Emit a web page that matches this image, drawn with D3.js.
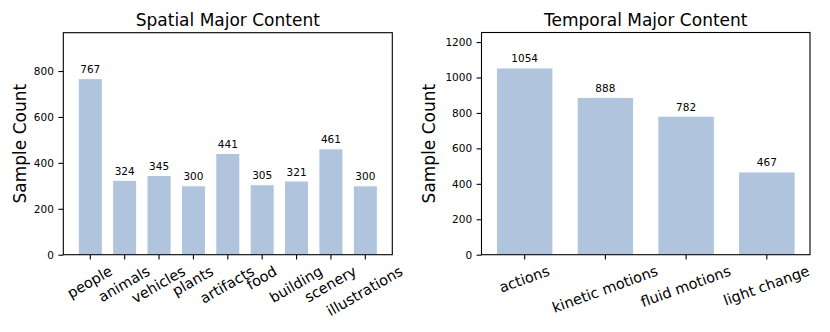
<!DOCTYPE html>
<html><head><meta charset="utf-8">
<script src="https://cdn.jsdelivr.net/npm/d3@7"></script>
<style>body{margin:0;background:#fff}svg{display:block}text{font-family:"DejaVu Sans",sans-serif;fill:#000}</style>
</head><body>
<svg id="c" width="830" height="332"></svg>
<script>
const spatialCategories = ["people","animals","vehicles","plants","artifacts","food","building","scenery","illustrations"];
const spatialValues = [767,324,345,300,441,305,321,461,300];
const spatialTicks = [0,200,400,600,800];
const temporalCategories = ["actions","kinetic motions","fluid motions","light change"];
const temporalValues = [1054,888,782,467];
const temporalTicks = [0,200,400,600,800,1000,1200];

const svg = d3.select("#c");
const BAR = "#B0C4DE";

function panel(cfg) {
  const {cats, vals, ticks, title, x0, x1, y0, y1, rot, ylabX} = cfg;
  const g = svg.append("g");
  const n = cats.length;
  const x = d3.scaleBand().domain(cats).range([x0, x1]).paddingInner(0.3).paddingOuter(0.05 * (n - 0.3));
  const y = d3.scaleLinear().domain([0, d3.max(vals) + 200]).range([y1, y0]);
  const data = cats.map((c, i) => ({c, v: vals[i]}));

  g.selectAll("rect.bar").data(data).join("rect").attr("class", "bar")
    .attr("x", d => x(d.c)).attr("width", x.bandwidth())
    .attr("y", d => y(d.v)).attr("height", d => y(0) - y(d.v))
    .attr("fill", BAR).attr("stroke", "#fff").attr("stroke-width", 1);

  g.selectAll("text.val").data(data).join("text").attr("class", "val")
    .attr("x", d => x(d.c) + x.bandwidth() / 2).attr("y", d => y(d.v) - 5.5)
    .attr("text-anchor", "middle").style("font-size", "10.5px").text(d => d.v);

  // y axis
  const yAxis = d3.axisLeft(y).tickValues(ticks).tickSize(4.9).tickPadding(4.5).tickFormat(d3.format("d"));
  const ya = g.append("g").attr("transform", `translate(${x0},0)`).call(yAxis);
  ya.select(".domain").remove();
  ya.selectAll("line").attr("stroke", "#000").attr("stroke-width", 1.1);
  ya.selectAll("text").style("font-size", "10.5px").style("font-family", '"DejaVu Sans",sans-serif');

  // x axis ticks
  const xAxis = d3.axisBottom(x).tickSize(4.9).tickFormat("");
  const xa = g.append("g").attr("transform", `translate(0,${y1})`).call(xAxis);
  xa.select(".domain").remove();
  xa.selectAll("line").attr("stroke", "#000").attr("stroke-width", 1.1);

  // rotated x labels, centered bbox like matplotlib
  const fs = 14.5, th = rot * Math.PI / 180;
  const top = y1 + 4.9 + 4.9;
  cats.forEach(c => {
    const lg = g.append("g");
    const t = lg.append("text").attr("text-anchor", "middle").attr("y", 0.265 * fs)
      .style("font-size", fs + "px").text(c);
    const w = t.node().getComputedTextLength();
    const h = fs;
    const H = w * Math.sin(th) + h * Math.cos(th);
    lg.attr("transform", `translate(${x(c) + x.bandwidth() / 2},${top + H / 2}) rotate(${-rot})`);
  });

  // frame
  g.append("rect").attr("x", x0).attr("y", y0).attr("width", x1 - x0).attr("height", y1 - y0)
    .attr("fill", "none").attr("stroke", "#000").attr("stroke-width", 1.1);

  g.append("text").attr("x", (x0 + x1) / 2).attr("y", 25.5).attr("text-anchor", "middle")
    .style("font-size", "17px").text(title);

  g.append("text").attr("transform", `translate(${ylabX},${(y0 + y1) / 2}) rotate(-90)`)
    .attr("text-anchor", "middle").style("font-size", "17px").text("Sample Count");
}

panel({cats: spatialCategories, vals: spatialValues, ticks: spatialTicks, title: "Spatial Major Content",
  x0: 63.3, x1: 392.3, y0: 32.7, y1: 254.7, rot: 30, ylabX: 26});
panel({cats: temporalCategories, vals: temporalValues, ticks: temporalTicks, title: "Temporal Major Content",
  x0: 481.5, x1: 810, y0: 32.5, y1: 254.7, rot: 20, ylabX: 435});
</script>
</body></html>
